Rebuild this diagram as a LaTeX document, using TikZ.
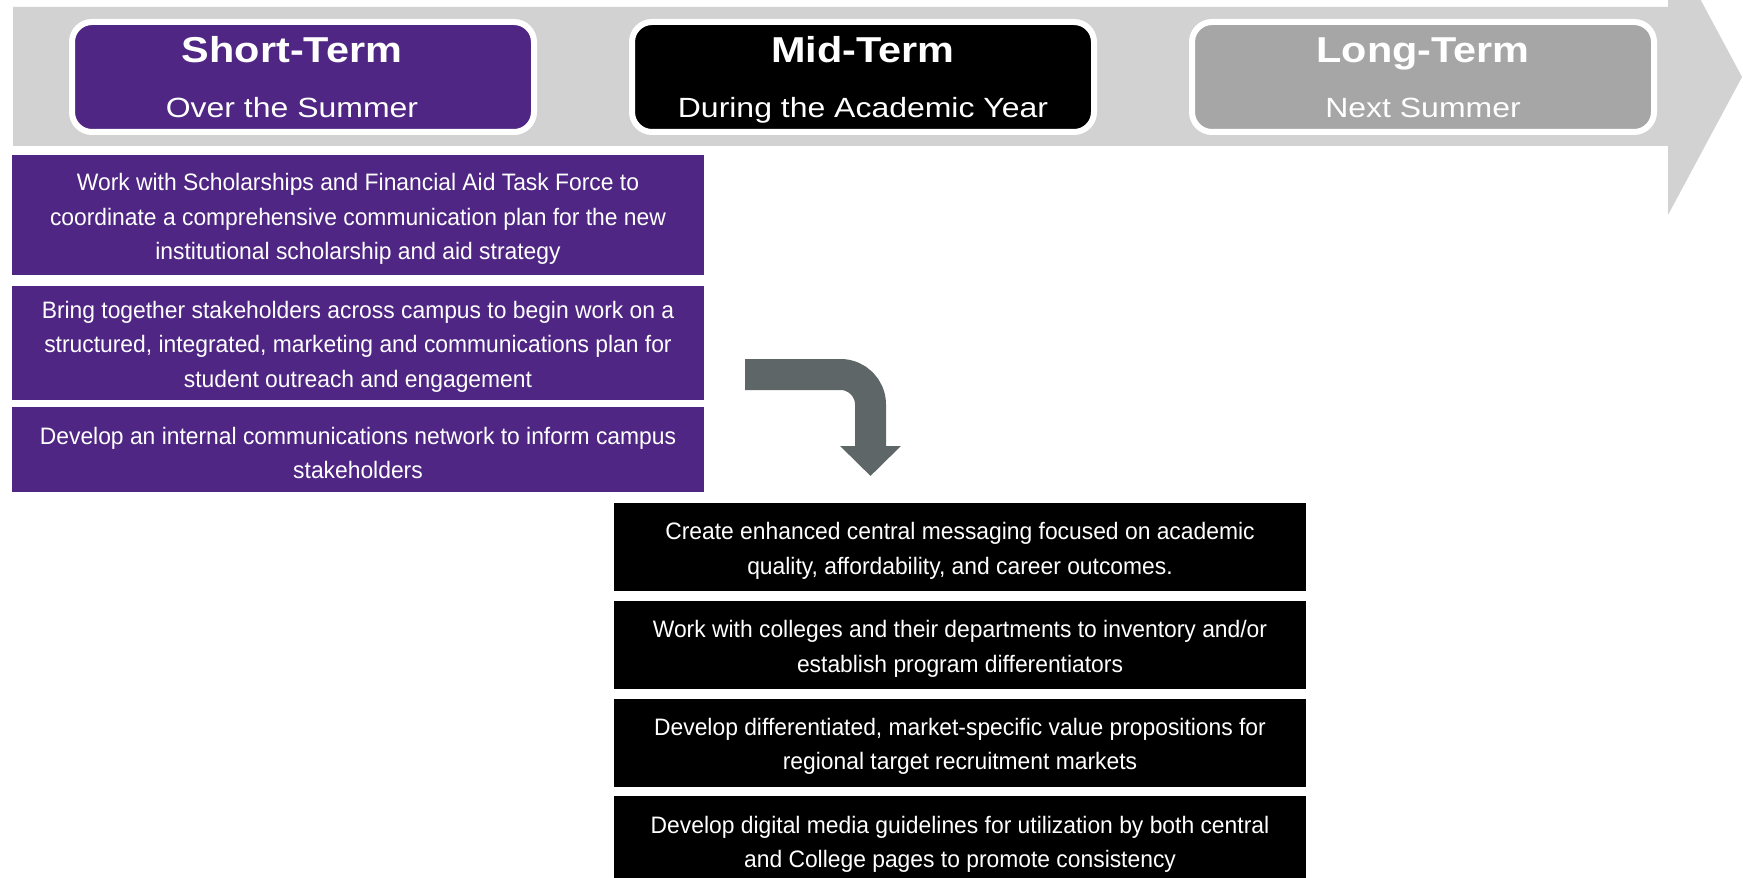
\documentclass[tikz,border=0pt]{standalone}
\usepackage{fontspec}
\setmainfont{Liberation Sans}
\newfontfamily\phasefont[FakeStretch=1.15]{Liberation Sans}
\newfontfamily\taskfont[FakeStretch=0.96]{Liberation Sans}
\usepackage{tikz}
\usetikzlibrary{positioning}
\usetikzlibrary{arrows.meta}
\definecolor{western}{RGB}{79,38,131}
\definecolor{bandgray}{RGB}{210,210,210}
\definecolor{longgray}{RGB}{166,166,166}
\definecolor{bendgray}{RGB}{94,102,104}
\newcommand{\topstrut}{\rule{0pt}{12.5pt}}

\begin{document}
\begin{tikzpicture}[x=0.5pt, y=-0.5pt,
every node/.style = {text=white, inner sep=0pt},
  phase/.style = {draw=white, line width=3pt, rounded corners=10pt, minimum width=231pt, minimum height=55pt},
  phasetitle/.style = {anchor=base, font=\phasefont\bfseries\fontsize{18}{20}\selectfont},
  phasesub/.style = {anchor=base, font=\phasefont\fontsize{13.9}{16}\selectfont},
  task/.style = {minimum width=346pt, align=center, font=\taskfont\fontsize{11.9}{17.3}\selectfont}
]
\clip (0,0) rectangle (1743,877);
% timeline band
\fill[bandgray] (13,7) -- (1668,7) -- (1668,-61) -- (1742,77) -- (1668,215) -- (1668,146) -- (13,146) -- cycle;
\node[phase, fill=western] (short) at (303,77) {};
\node[phase, fill=black] (mid) at (863,77) {};
\node[phase, fill=longgray] (long) at (1423,77) {};
\node[phasetitle] (short title) at (292,63) {Short-Term};
\node[phasesub] (short sub) at (292,118) {Over the Summer};
\node[phasetitle] (mid title) at (863,63) {Mid-Term};
\node[phasesub] (mid sub) at (863,118) {During the Academic Year};
\node[phasetitle] (long title) at (1423,63) {Long-Term};
\node[phasesub] (long sub) at (1423,118) {Next Summer};
% short-term tasks
\node[task, fill=western, minimum height=60pt] (s1) at (358,215) {\topstrut Work with Scholarships and Financial Aid Task Force to\\coordinate a comprehensive communication plan for the new\\institutional scholarship and aid strategy};
\node[task, fill=western, minimum height=57pt, below=5pt of s1] (s2) {\topstrut Bring together stakeholders across campus to begin work on a\\structured, integrated, marketing and communications plan for\\student outreach and engagement};
\node[task, fill=western, minimum height=42.5pt, below=3pt of s2] (s3) {\topstrut Develop an internal communications network to inform campus\\stakeholders};
% mid-term tasks
\node[task, fill=black, minimum height=44pt] (m1) at (960,547) {\topstrut Create enhanced central messaging focused on academic\\quality, affordability, and career outcomes.};
\node[task, fill=black, minimum height=44pt, below=4.5pt of m1] (m2) {\topstrut Work with colleges and their departments to inventory and/or\\establish program differentiators};
\node[task, fill=black, minimum height=44pt, below=4.5pt of m2] (m3) {\topstrut Develop differentiated, market-specific value propositions for\\regional target recruitment markets};
\node[task, fill=black, minimum height=44pt, below=4.5pt of m3] (m4) {\topstrut Develop digital media guidelines for utilization by both central\\and College pages to promote consistency};
% bent arrow
\coordinate (bend start) at (745,374.5);
\coordinate (bend end) at (870.5,476);
\draw[bendgray, line width=15.5pt, rounded corners=15pt, -{Triangle[width=29.5pt, length=15pt]}] (bend start) -| (bend end);
\end{tikzpicture}
\end{document}
